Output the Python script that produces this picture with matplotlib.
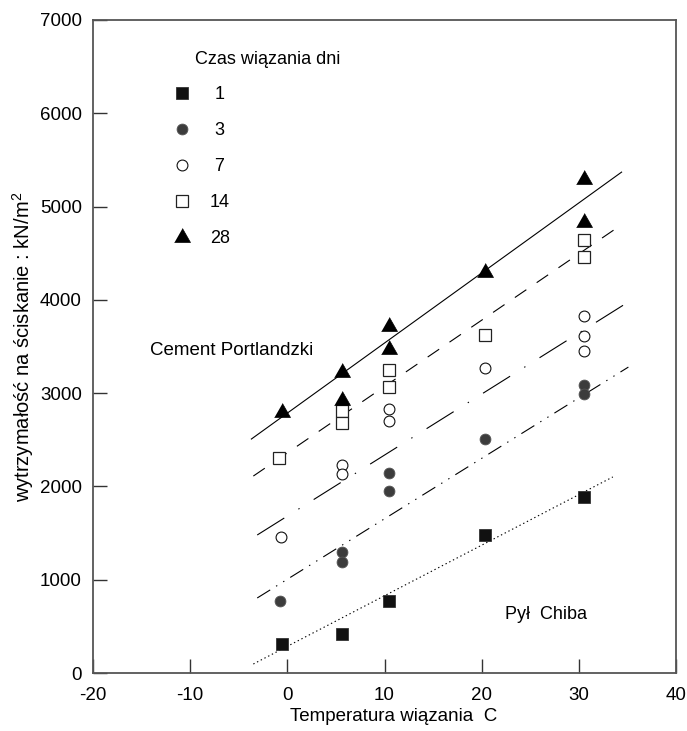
import numpy as np
import matplotlib.pyplot as plt

plt.rcParams['font.family'] = ['Liberation Sans', 'DejaVu Sans']
plt.rcParams['mathtext.fontset'] = 'custom'
plt.rcParams['mathtext.rm'] = 'Liberation Sans'
plt.rcParams['mathtext.it'] = 'Liberation Sans'
plt.rcParams['axes.unicode_minus'] = False
plt.rcParams['lines.scale_dashes'] = False

# curing time (days) and measured compressive strength, kN/m2
days = [1, 3, 7, 14, 28]

x_1 = [-0.5, 5.6, 10.5, 20.3, 30.5]
y_1 = [310, 420, 770, 1480, 1890]

x_3 = [-0.8, 5.6, 5.6, 10.5, 10.5, 20.3, 30.5, 30.5]
y_3 = [770, 1300, 1190, 2140, 1950, 2510, 3090, 2990]

x_7 = [-0.7, 5.6, 5.6, 10.5, 10.5, 20.3, 30.5, 30.5, 30.5]
y_7 = [1460, 2230, 2130, 2830, 2700, 3270, 3830, 3610, 3450]

x_14 = [-0.9, 5.6, 5.6, 10.5, 10.5, 20.3, 30.5, 30.5]
y_14 = [2300, 2810, 2680, 3250, 3070, 3620, 4640, 4460]

x_28 = [-0.5, 5.6, 5.6, 10.5, 10.5, 20.3, 30.5, 30.5]
y_28 = [2810, 3240, 2940, 3730, 3480, 4310, 5310, 4850]

# trend lines as printed: slope (kN/m2 per C), value at 0 C, x range
fit_slope = [54.2, 64.8, 65.4, 71.1, 75.1]
fit_at_zero = [286, 1005, 1682, 2360, 2786]
line_from = [-3.5, -3.1, -3.1, -3.5, -3.7]
line_to = [33.5, 35.1, 34.9, 34.2, 34.4]

xticks = [-20, -10, 0, 10, 20, 30, 40]
yticks = [0, 1000, 2000, 3000, 4000, 5000, 6000, 7000]

fig = plt.figure(figsize=(6.87, 7.31), dpi=100)
ax = fig.add_axes([93/687, 1 - 673/731, 583/687, 653/731])

tri = [(-1, -0.75), (1, -0.75), (0, 1.0)]
styles = [
    dict(marker='s', ms=8.5, mfc='#111111', mec='#333333', mew=0.6),
    dict(marker='o', ms=7.8, mfc='#3c3c3c', mec='#555555', mew=0.6),
    dict(marker='o', ms=7.8, mfc='white', mec='#111111', mew=0.8),
    dict(marker='s', ms=8.3, mfc='white', mec='#222222', mew=0.9),
    dict(marker=tri, ms=11.5, mfc='black', mec='black', mew=0.5),
]
dashes = [(0, (1, 2)), (0, (11, 5, 1, 5, 1, 5)), (0, (23, 12, 1, 12)),
          (0, (10, 9)), '-']

xs = [x_1, x_3, x_7, x_14, x_28]
ys = [y_1, y_3, y_7, y_14, y_28]

handles = []
for i in range(5):
    lx = np.array([line_from[i], line_to[i]])
    ax.plot(lx, fit_at_zero[i] + fit_slope[i] * lx, color='black', lw=0.8,
            linestyle=dashes[i])
    h, = ax.plot(xs[i], ys[i], linestyle='none', zorder=3, **styles[i])
    handles.append(h)

ax.set_xlim(-20, 40)
ax.set_ylim(0, 7000)
ax.set_xticks(xticks)
ax.set_yticks(yticks)
ax.tick_params(direction='in', length=10, width=1, color='#333333',
               labelsize=13.5)
ax.tick_params(axis='x', pad=10)
ax.tick_params(axis='y', pad=8)
for s in ax.spines.values():
    s.set_color('#555555')
    s.set_linewidth(1.3)

ax.set_xlabel('Temperatura wiązania  C', fontsize=13.5)
ax.xaxis.set_label_coords(0.516, -0.053)
ax.set_ylabel('wytrzymałość na ściskanie : kN/m$^2$', fontsize=14.5,
              labelpad=3)

ax.text(-9.5, 6580, 'Czas wiązania dni', fontsize=13, va='center')
ax.legend(handles, [f'{d:>2}' for d in days], loc='upper left',
          bbox_to_anchor=(0.137, 0.899), frameon=False, fontsize=13,
          handlelength=1.0, handletextpad=1.05, labelspacing=1.05,
          borderpad=0, borderaxespad=0)

ax.text(-14.1, 3460, 'Cement Portlandzki', fontsize=13.5, va='center')
ax.text(22.4, 632, 'Pył  Chiba', fontsize=13, va='center')

fig.savefig('out.png', dpi=100)
